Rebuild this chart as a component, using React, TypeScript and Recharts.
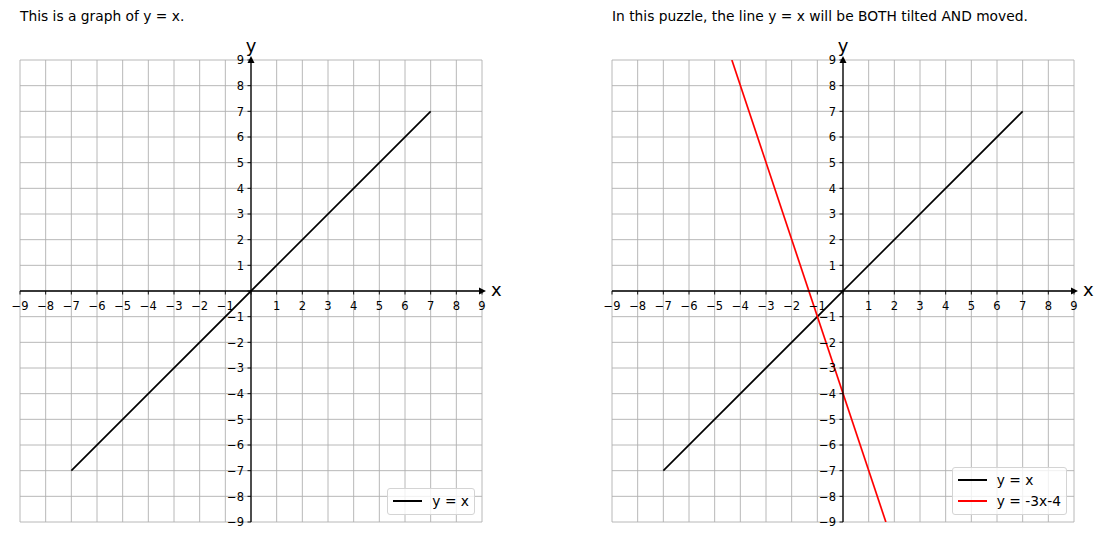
import React from "react";
import {
  ComposedChart,
  Line,
  XAxis,
  YAxis,
  CartesianGrid,
  ReferenceLine,
  ReferenceDot,
} from "recharts";

// tick values shared by both axes
const tickValues = [-9, -8, -7, -6, -5, -4, -3, -2, -1, 0, 1, 2, 3, 4, 5, 6, 7, 8, 9];

// y = x, drawn from x = -7 to x = 7
const identityX = [-7, 7];
const identityY = [-7, 7];

// y = -3x - 4, clipped to the visible box
const tiltedX = [-4.33, 1.67];
const tiltedY = [9, -9];

const leftTitle = "This is a graph of y = x.";
const rightTitle = "In this puzzle, the line y = x will be BOTH tilted AND moved.";

const FONT = '"DejaVu Sans", sans-serif';
const CHART_W = 549;
const CHART_H = 540;
const PLOT = 462;
const TOP = 60;
const AXIS_W = 20;

type Series = { name: string; color: string; data: { x: number; y: number }[] };

const toPoints = (xs: number[], ys: number[]) => xs.map((x, i) => ({ x, y: ys[i] }));

const identity: Series = { name: "y = x", color: "#000000", data: toPoints(identityX, identityY) };
const tilted: Series = { name: "y = -3x-4", color: "#ff0000", data: toPoints(tiltedX, tiltedY) };

const fmt = (v: number) => (v < 0 ? "\u2212" + Math.abs(v) : String(v));

function LegendBox({ series, right, bottom }: { series: Series[]; right: number; bottom: number }) {
  return (
    <div
      style={{
        position: "absolute",
        right,
        bottom,
        background: "rgba(255,255,255,0.8)",
        border: "1px solid #d4d4d4",
        borderRadius: 3,
        padding: "1px 5px 3px 5px",
        fontFamily: FONT,
        fontSize: 13.8,
        color: "#000",
      }}
    >
      {series.map((s) => (
        <div key={s.name} style={{ display: "flex", alignItems: "center", height: 21 }}>
          <div style={{ width: 29, height: 0, borderTop: `2px solid ${s.color}`, marginRight: 10 }} />
          <span style={{ whiteSpace: "pre" }}>{s.name}</span>
        </div>
      ))}
    </div>
  );
}

function Panel({
  left,
  plotLeft,
  title,
  series,
  legendRight,
}: {
  left: number;
  plotLeft: number;
  title: string;
  series: Series[];
  legendRight: number;
}) {
  const x0 = plotLeft + PLOT / 2;
  const y0 = TOP + PLOT / 2;
  const bottomSpace = CHART_H - TOP - PLOT;
  const margin = { top: TOP, left: plotLeft - AXIS_W, right: CHART_W - plotLeft - PLOT, bottom: 0 };

  const xTick = (p: any) => {
    const v = p.payload.value;
    return (
      <g>
        <line x1={p.x} x2={p.x} y1={y0} y2={y0 + 3.5} stroke="#000" strokeWidth={0.9} />
        {v !== 0 && (
          <text x={p.x} y={y0 + 19} textAnchor="middle" fontSize={11.5} fontFamily={FONT} fill="#000">
            {fmt(v)}
          </text>
        )}
      </g>
    );
  };

  const yTick = (p: any) => {
    const v = p.payload.value;
    return (
      <g>
        <line x1={x0} x2={x0 - 3.5} y1={p.y} y2={p.y} stroke="#000" strokeWidth={0.9} />
        {v !== 0 && (
          <text x={x0 - 7} y={p.y + 4.2} textAnchor="end" fontSize={11.5} fontFamily={FONT} fill="#000">
            {fmt(v)}
          </text>
        )}
      </g>
    );
  };

  const arrowX = (p: any) => (
    <g>
      <path d={`M${p.cx + 4},${p.cy} L${p.cx - 3},${p.cy - 3.5} L${p.cx - 3},${p.cy + 3.5} Z`} fill="#000" />
      <text x={p.cx + 9} y={p.cy + 5} fontSize={18} fontFamily={FONT} fill="#000">
        x
      </text>
    </g>
  );

  const arrowY = (p: any) => (
    <g>
      <path d={`M${p.cx},${p.cy - 4} L${p.cx - 3.5},${p.cy + 3} L${p.cx + 3.5},${p.cy + 3} Z`} fill="#000" />
      <text x={p.cx} y={p.cy - 8} textAnchor="middle" fontSize={18} fontFamily={FONT} fill="#000">
        y
      </text>
    </g>
  );

  return (
    <div style={{ position: "absolute", left, top: 0, width: CHART_W, height: CHART_H }}>
      <div
        style={{
          position: "absolute",
          left: plotLeft,
          top: 8,
          fontFamily: FONT,
          fontSize: 13.8,
          lineHeight: "16px",
          whiteSpace: "nowrap",
          color: "#000",
        }}
      >
        {title}
      </div>
      <ComposedChart width={CHART_W} height={CHART_H} margin={margin}>
        <CartesianGrid stroke="#b0b0b0" strokeWidth={0.9} />
        <XAxis
          type="number"
          dataKey="x"
          domain={[-9, 9]}
          ticks={tickValues}
          interval={0}
          height={bottomSpace}
          axisLine={false}
          tickLine={false}
          tick={xTick}
          allowDataOverflow
        />
        <YAxis
          type="number"
          dataKey="y"
          domain={[-9, 9]}
          ticks={tickValues}
          interval={0}
          width={AXIS_W}
          axisLine={false}
          tickLine={false}
          tick={yTick}
          allowDataOverflow
        />
        {series.map((s) => (
          <Line
            key={s.name}
            data={s.data}
            dataKey="y"
            name={s.name}
            stroke={s.color}
            strokeWidth={1.7}
            dot={false}
            isAnimationActive={false}
          />
        ))}
        <ReferenceLine y={0} stroke="#000" strokeWidth={1.3} />
        <ReferenceLine x={0} stroke="#000" strokeWidth={1.3} />
        <ReferenceDot x={9} y={0} r={0} shape={arrowX} />
        <ReferenceDot x={0} y={9} r={0} shape={arrowY} />
      </ComposedChart>
      <LegendBox series={series} right={legendRight} bottom={25} />
    </div>
  );
}

export default function App() {
  return (
    <div style={{ position: "absolute", left: 0, top: 0, width: 1098, height: 540, background: "#fff" }}>
      <Panel left={0} plotLeft={20} title={leftTitle} series={[identity]} legendRight={74} />
      <Panel left={549} plotLeft={63} title={rightTitle} series={[identity, tilted]} legendRight={31} />
    </div>
  );
}
